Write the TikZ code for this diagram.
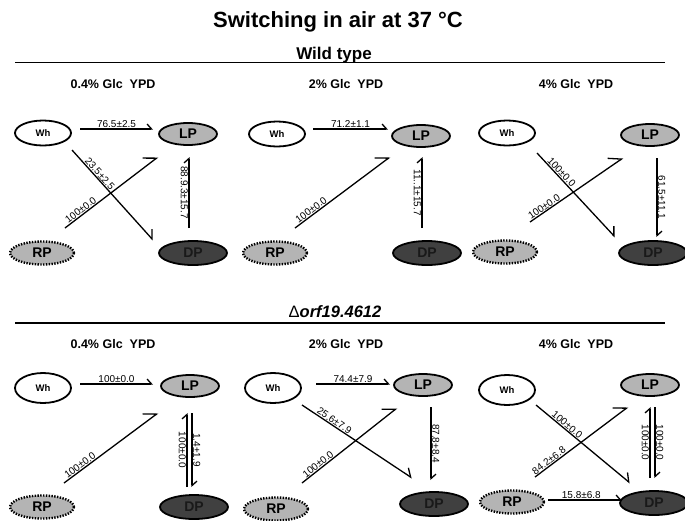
\documentclass[tikz,border=0pt]{standalone}
\usepackage{fontspec}
\setmainfont{Liberation Sans}
\usetikzlibrary{arrows.meta,shapes.geometric}
\definecolor{lgray}{RGB}{180,180,180}
\definecolor{dgray}{RGB}{64,64,64}
\begin{document}
\begin{tikzpicture}[x=1pt,y=-1pt,
  st/.style={ellipse, draw=black, line width=1.8pt, inner sep=0pt, font=\bfseries\fontsize{14}{14}\selectfont},
  wh/.style={st, fill=white, minimum width=56pt, minimum height=25pt, font=\bfseries\fontsize{9.5}{9.5}\selectfont},
  lp/.style={st, fill=lgray, minimum width=58pt, minimum height=22pt},
  rp/.style={st, fill=lgray, minimum width=64pt, minimum height=23pt, line width=2.4pt, dash pattern=on 1.4pt off 1.4pt},
  dp/.style={st, fill=dgray, text=black!90, minimum width=68pt, minimum height=24pt},
  arr/.style={line width=1.3pt, -{Straight Barb[harpoon, length=4.5pt, width=10pt]}},
  arrM/.style={line width=1.3pt, -{Straight Barb[harpoon, length=7pt, width=13pt]}},
  arrL/.style={line width=1.3pt, -{Straight Barb[harpoon, length=11pt, width=17pt]}},
  lab/.style={font=\fontsize{10}{10}\selectfont, inner sep=0.6pt},
  labL/.style={lab, midway, rotate=-90, anchor=north},
  labR/.style={lab, midway, rotate=-90, anchor=south},
  ptitle/.style={font=\bfseries\fontsize{12.5}{12.5}\selectfont, anchor=base},
  hline/.style={line width=1.5pt}
]
\useasboundingbox (0,0) rectangle (685,520);

% headers
\node[font=\bfseries\fontsize{22}{22}\selectfont, anchor=base] (title) at (338,27) {Switching in air at 37 °C};
\node[font=\bfseries\fontsize{17}{17}\selectfont, anchor=base] (wt) at (334,59) {Wild type};
\draw[hline] (15,62.5) -- (665,62.5);
\node[font=\bfseries\fontsize{16.5}{16.5}\selectfont, anchor=base] (mut) at (335,317) {{\mdseries Δ}\itshape orf19.4612};
\draw[hline] (15,323) -- (665,323);

\node[ptitle] (t1) at (113,88) {0.4\% Glc\ \ YPD};
\node[ptitle] (t2) at (346,88) {2\% Glc\ \ YPD};
\node[ptitle] (t3) at (576,88) {4\% Glc\ \ YPD};
\node[ptitle] (t4) at (113,348) {0.4\% Glc\ \ YPD};
\node[ptitle] (t5) at (346,348) {2\% Glc\ \ YPD};
\node[ptitle] (t6) at (576,348) {4\% Glc\ \ YPD};

% ---------- Panel 1 ----------
\node[wh] (Wh1) at (43,133) {Wh};
\node[lp] (LP1) at (188,134) {LP};
\node[rp] (RP1) at (42,253) {RP};
\node[dp] (DP1) at (193,253) {DP};
\draw[arr] ([shift={(37,-4)}]Wh1.center) -- node[lab,sloped,above]{76.5±2.5} ([shift={(-35,-5)}]LP1.center);
\draw[arrM] ([shift={(29,17)}]Wh1.center) -- node[lab,sloped,above,pos=.3]{23.5±2.5} ([shift={(-40,-13)}]DP1.center);
\draw[arrL] ([shift={(23,-25)}]RP1.center) -- node[lab,sloped,above,pos=.2]{100±0.0} ([shift={(-30,23)}]LP1.center);
\draw[arr] ([shift={(-4,-25)}]DP1.center) -- node[labL]{88.9.3±15.7} ([shift={(1,23)}]LP1.center);

% ---------- Panel 2 ----------
\node[wh] (Wh2) at (277,134) {Wh};
\node[lp] (LP2) at (421,136) {LP};
\node[rp] (RP2) at (275,253) {RP};
\node[dp] (DP2) at (427,253) {DP};
\draw[arr] ([shift={(36,-5)}]Wh2.center) -- node[lab,sloped,above]{71.2±1.1} ([shift={(-33,-7)}]LP2.center);
\draw[arrL] ([shift={(20,-25)}]RP2.center) -- node[lab,sloped,above,pos=.2]{100±0.0} ([shift={(-31,21)}]LP2.center);
\draw[arr] ([shift={(-5,-25)}]DP2.center) -- node[labL]{11..1±15.7} ([shift={(1,21)}]LP2.center);

% ---------- Panel 3 ----------
\node[wh] (Wh3) at (507,133) {Wh};
\node[lp] (LP3) at (650,135) {LP};
\node[rp] (RP3) at (505,252) {RP};
\node[dp] (DP3) at (653,253) {DP};
\draw[arrM] ([shift={(30,20)}]Wh3.center) -- node[lab,sloped,above,pos=.27]{100±0.0} ([shift={(-38,-16)}]DP3.center);
\draw[arrL] ([shift={(25,-30)}]RP3.center) -- node[lab,sloped,above,pos=.18]{100±0.0} ([shift={(-27,23)}]LP3.center);
\draw[arr] ([shift={(7,23)}]LP3.center) -- node[labR]{61.5±11.1} ([shift={(4,-16)}]DP3.center);

% ---------- Panel 4 ----------
\node[wh, minimum height=30pt] (Wh4) at (43,388) {Wh};
\node[lp] (LP4) at (190,386) {LP};
\node[rp] (RP4) at (42,507) {RP};
\node[dp] (DP4) at (194,507) {DP};
\draw[arr] ([shift={(37,-4)}]Wh4.center) -- node[lab,sloped,above]{100±0.0} ([shift={(-37,-2)}]LP4.center);
\draw[arrL] ([shift={(22,-24)}]RP4.center) -- node[lab,sloped,above,pos=.2]{100±0.0} ([shift={(-32,27)}]LP4.center);
\draw[arr] ([shift={(-7,-20)}]DP4.center) -- node[labL]{100±0.0} ([shift={(-3,27)}]LP4.center);
\draw[arr] ([shift={(2,27)}]LP4.center) -- node[labR]{1.4±1.9} ([shift={(-2,-20)}]DP4.center);

% ---------- Panel 5 ----------
\node[wh, minimum height=30pt] (Wh5) at (273,388) {Wh};
\node[lp] (LP5) at (423,385) {LP};
\node[rp] (RP5) at (276,509) {RP};
\node[dp] (DP5) at (434,504) {DP};
\draw[arr] ([shift={(43,-4)}]Wh5.center) -- node[lab,sloped,above]{74.4±7.9} ([shift={(-33,-1)}]LP5.center);
\draw[arrM] ([shift={(29,17)}]Wh5.center) -- node[lab,sloped,above,pos=.27]{25.6±7.9} ([shift={(-22,-26)}]DP5.center);
\draw[arrL] ([shift={(26,-26)}]RP5.center) -- node[lab,sloped,above,pos=.2]{100±0.0} ([shift={(-26,23)}]LP5.center);
\draw[arr] ([shift={(8,22)}]LP5.center) -- node[labR]{87.8±8.4} ([shift={(-3,-24)}]DP5.center);

% ---------- Panel 6 ----------
\node[wh, minimum height=30pt] (Wh6) at (507,390) {Wh};
\node[lp] (LP6) at (650,385) {LP};
\node[rp] (RP6) at (512,502) {RP};
\node[dp] (DP6) at (654,503) {DP};
\draw[arrM] ([shift={(29,15)}]Wh6.center) -- node[lab,sloped,above,pos=.3]{100±0.0} ([shift={(-24,-20)}]DP6.center);
\draw[arrL] ([shift={(23,-25)}]RP6.center) -- node[lab,sloped,above,pos=.18]{84.2±6.8} ([shift={(-22,22)}]LP6.center);
\draw[arr] ([shift={(36,-2)}]RP6.center) -- node[lab,sloped,above,pos=.45]{15.8±6.8} ([shift={(-32,-3)}]DP6.center);
\draw[arr] ([shift={(-4,-25)}]DP6.center) -- node[labL]{100±0.0} ([shift={(0,22)}]LP6.center);
\draw[arr] ([shift={(5,22)}]LP6.center) -- node[labR]{100±0.0} ([shift={(1,-25)}]DP6.center);
\end{tikzpicture}
\end{document}
